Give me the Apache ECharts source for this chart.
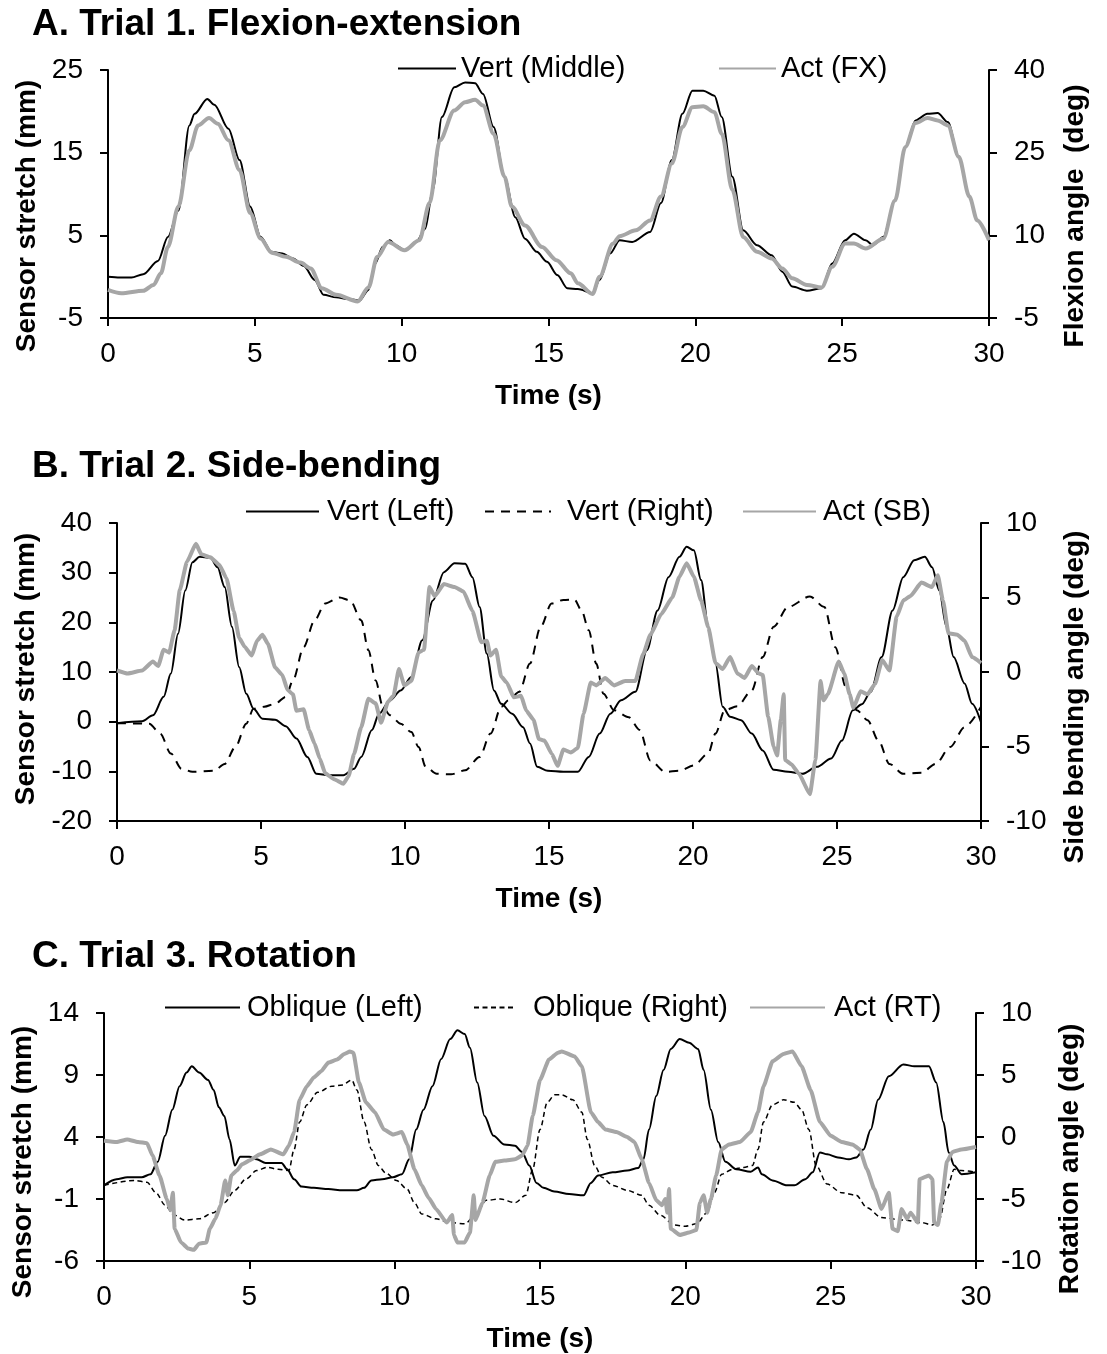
<!DOCTYPE html>
<html>
<head>
<meta charset="utf-8">
<script src="https://cdn.jsdelivr.net/npm/echarts@6/dist/echarts.min.js"></script>
<style>
html,body{margin:0;padding:0;background:#fff;}
#chart{width:1107px;height:1354px;}
</style>
</head>
<body>
<div id="chart"></div>
<script>
// ---------- Tick settings ----------
const timeTicks = { min: 0, max: 30, interval: 5 };
const aLeftTicks = { min: -5, max: 25, interval: 10 };
const aRightTicks = { min: -5, max: 40, interval: 15 };
const bLeftTicks = { min: -20, max: 40, interval: 10 };
const bRightTicks = { min: -10, max: 10, interval: 5 };
const cLeftTicks = { min: -6, max: 14, interval: 5 };
const cRightTicks = { min: -10, max: 10, interval: 5 };

// ---------- Panel A: Flexion-extension ----------
// [time (s), sensor stretch (mm)]
const aVertMiddle = [[0,0.0],[0.4,-0.1],[0.8,-0.1],[1.2,0.3],[1.7,1.9],[2.04,4.8],[2.4,8.0],[2.77,18.3],[2.95,19.7],[3.38,21.5],[3.62,20.8],[4.1,17.9],[4.48,14.1],[4.84,8.5],[5.2,4.8],[5.57,3.0],[5.94,2.8],[6.3,2.2],[6.67,1.3],[7.04,-0.4],[7.34,-2.2],[7.77,-2.5],[8.2,-2.7],[8.56,-2.9],[8.87,-1.6],[9.1,1.6],[9.35,3.6],[9.6,4.4],[9.8,3.8],[10.1,3.2],[10.5,4.2],[10.8,5.8],[11.06,10.5],[11.37,19.3],[11.79,22.9],[12.16,23.5],[12.5,23.4],[12.77,22.1],[13.13,18.1],[13.5,12.1],[13.87,7.2],[14.2,4.6],[14.6,3.0],[14.95,1.8],[15.3,0.2],[15.64,-1.4],[16.0,-1.5],[16.5,-2.0],[16.74,-0.4],[17.1,2.8],[17.42,4.4],[17.85,4.2],[18.46,5.4],[18.83,8.9],[19.2,14.1],[19.56,19.7],[19.9,22.5],[20.27,22.5],[20.65,21.9],[20.9,19.3],[21.26,12.1],[21.63,5.6],[22.1,3.8],[22.6,2.6],[22.96,0.6],[23.3,-1.2],[23.8,-1.7],[24.3,-1.4],[24.66,1.6],[25.1,4.4],[25.4,5.2],[25.8,4.4],[26.05,3.8],[26.4,4.8],[26.8,9.2],[27.15,15.7],[27.5,18.9],[27.9,19.7],[28.25,19.8],[28.6,18.7],[28.97,14.5],[29.33,9.7],[29.6,6.8],[30,4.4]];
// [time (s), flexion angle (deg)]
const aActFX = [[0,0.1],[0.45,-0.5],[1.2,-0.05],[1.55,1.0],[1.8,3.1],[2.04,7.9],[2.4,15.25],[2.77,25.45],[3.07,29.95],[3.44,31.3],[3.74,30.25],[4.1,27.25],[4.48,21.85],[4.84,14.05],[5.2,9.4],[5.57,6.85],[6.06,6.1],[6.55,5.05],[6.9,4.0],[7.28,0.4],[7.77,-0.8],[8.5,-2.0],[8.87,0.55],[9.17,6.1],[9.54,8.8],[10.1,7.3],[10.6,9.1],[10.95,15.85],[11.3,27.25],[11.79,32.65],[12.16,34.15],[12.5,34.6],[12.77,33.55],[13.13,28.45],[13.5,20.65],[13.75,15.25],[14.2,11.8],[14.78,7.9],[15.27,5.5],[15.76,3.1],[16.0,1.3],[16.5,-0.65],[16.74,2.5],[17.2,8.5],[17.42,9.85],[17.97,10.9],[18.46,12.7],[18.83,17.05],[19.2,23.05],[19.56,29.65],[19.9,33.25],[20.27,33.4],[20.65,32.35],[20.9,28.45],[21.26,18.25],[21.63,9.7],[22.1,7.0],[22.6,5.8],[22.96,4.0],[23.3,2.2],[23.8,1.0],[24.3,0.55],[24.66,4.3],[25.1,8.5],[25.4,8.5],[25.8,7.6],[26.4,9.4],[26.8,16.3],[27.15,26.05],[27.5,30.4],[27.9,31.3],[28.25,30.85],[28.6,29.95],[28.97,24.25],[29.33,17.05],[29.6,12.7],[30,9.1]];

// ---------- Panel B: Side-bending ----------
const bVertLeft = [[0,-0.3],[0.87,0.1],[1.25,1.3],[1.62,5.0],[1.87,9.7],[2.12,17.7],[2.37,26.4],[2.62,32.1],[2.87,33.2],[3.24,33.0],[3.49,31.1],[3.74,27.1],[3.99,19.1],[4.24,11.0],[4.49,5.6],[4.74,2.6],[5.05,0.6],[5.49,0.4],[5.86,-0.9],[6.23,-3.4],[6.61,-7.1],[6.92,-10.5],[7.36,-10.8],[7.86,-10.8],[8.23,-9.5],[8.48,-7.1],[8.85,-1.7],[9.1,1.6],[9.48,4.3],[9.85,6.3],[10.22,9.0],[10.6,16.4],[10.97,24.4],[11.35,30.1],[11.72,31.9],[12.09,31.8],[12.34,29.1],[12.59,23.1],[12.84,13.7],[13.09,6.3],[13.34,3.6],[13.72,1.6],[14.1,-1.1],[14.34,-4.4],[14.59,-9.1],[14.96,-9.9],[15.5,-10.1],[16.0,-10.1],[16.38,-7.1],[16.76,-2.4],[17.13,1.6],[17.5,4.3],[18.0,6.0],[18.4,14.4],[18.77,22.4],[19.15,29.1],[19.53,33.2],[19.78,35.2],[20.03,34.5],[20.28,28.5],[20.53,19.1],[20.78,11.7],[21.03,3.0],[21.29,1.0],[21.67,0.3],[22.04,-2.4],[22.42,-5.8],[22.8,-9.7],[23.3,-10.1],[23.8,-10.5],[24.3,-9.1],[24.8,-7.4],[25.17,-3.8],[25.55,2.3],[25.86,3.5],[26.17,6.0],[26.55,13.0],[26.93,22.4],[27.3,29.1],[27.68,32.5],[28.05,33.2],[28.3,31.1],[28.55,26.4],[28.8,19.1],[29.05,13.0],[29.43,7.7],[29.69,3.6],[30,-0.1]];
const bVertRight = [[0,-0.3],[1.12,-0.4],[1.5,-2.4],[1.87,-6.4],[2.24,-9.5],[2.62,-10.1],[3.37,-9.9],[3.74,-8.5],[4.11,-5.1],[4.49,-0.4],[4.74,2.6],[5.11,3.0],[5.49,3.6],[5.86,5.0],[6.11,8.3],[6.48,15.0],[6.86,20.4],[7.23,23.8],[7.73,25.0],[8.1,24.4],[8.48,20.4],[8.73,14.4],[8.98,8.3],[9.23,3.0],[9.48,1.3],[9.85,-0.4],[10.22,-2.1],[10.47,-5.1],[10.72,-9.1],[11.1,-10.5],[11.6,-10.6],[12.09,-9.8],[12.59,-7.1],[12.97,-2.4],[13.34,3.0],[13.59,4.3],[13.97,6.0],[14.34,11.7],[14.71,19.1],[15.09,23.8],[15.5,24.5],[15.88,24.6],[16.13,22.4],[16.38,18.4],[16.64,11.7],[16.89,5.6],[17.26,2.3],[17.77,0.9],[18.15,-1.7],[18.52,-7.8],[19.03,-10.1],[19.53,-9.9],[20.03,-8.8],[20.53,-6.4],[20.78,-2.4],[21.1,2.3],[21.54,3.1],[22.04,6.3],[22.42,13.0],[22.8,19.1],[23.3,23.1],[24.06,25.2],[24.56,23.1],[24.94,15.0],[25.31,7.0],[25.69,2.3],[26.06,0.3],[26.44,-3.8],[26.82,-8.5],[27.3,-10.5],[27.93,-10.3],[28.43,-8.5],[28.93,-5.1],[29.43,-1.1],[30,3.0]];
const bActSB = [[0,0.1],[0.37,-0.1],[0.87,0.1],[1.25,0.7],[1.43,0.4],[1.62,1.5],[1.81,1.3],[2.0,2.8],[2.18,5.5],[2.43,7.4],[2.74,8.6],[2.93,7.9],[3.24,7.7],[3.55,7.2],[3.8,6.3],[4.05,4.1],[4.24,2.3],[4.43,1.7],[4.68,1.1],[4.86,2.1],[5.05,2.5],[5.24,1.9],[5.49,0.3],[5.74,-0.2],[5.92,-1.2],[6.11,-1.5],[6.23,-2.6],[6.48,-2.5],[6.67,-3.9],[6.86,-4.8],[7.04,-5.8],[7.23,-6.8],[7.54,-7.2],[7.86,-7.5],[8.04,-7.0],[8.23,-5.5],[8.48,-3.7],[8.73,-1.8],[8.98,-2.1],[9.17,-3.4],[9.41,-2.0],[9.6,-1.6],[9.79,0.2],[9.98,-0.9],[10.22,-0.6],[10.47,1.3],[10.66,1.5],[10.85,5.7],[11.03,5.1],[11.35,5.9],[11.72,5.7],[12.03,5.4],[12.34,4.1],[12.65,2.0],[12.84,2.1],[12.97,1.1],[13.16,1.5],[13.34,-0.3],[13.53,-0.7],[13.78,-1.7],[14.03,-1.6],[14.21,-2.6],[14.46,-3.2],[14.65,-4.5],[14.84,-4.6],[15.1,-5.5],[15.3,-6.3],[15.5,-5.2],[15.76,-5.4],[16.0,-5.1],[16.2,-2.8],[16.45,-0.7],[16.64,-0.9],[16.95,-0.4],[17.26,-0.9],[17.64,-0.6],[18.0,-0.6],[18.27,1.2],[18.52,2.5],[18.9,3.9],[19.28,5.0],[19.53,6.4],[19.78,7.3],[20.03,6.4],[20.28,4.8],[20.53,3.0],[20.78,0.6],[21.03,0.2],[21.29,1.0],[21.54,-0.1],[21.79,-0.4],[22.04,0.4],[22.29,-0.1],[22.42,-0.2],[22.61,-3.0],[22.8,-5.0],[22.92,-5.6],[23.05,-3.2],[23.15,-1.5],[23.2,-5.9],[23.42,-6.2],[23.67,-6.8],[24.06,-8.2],[24.25,-5.9],[24.43,-0.6],[24.53,-1.9],[24.68,-1.5],[25.06,0.7],[25.25,-0.1],[25.44,-1.5],[25.57,-2.4],[25.82,-1.3],[26.06,-1.5],[26.32,-0.8],[26.57,0.8],[26.82,0.1],[27.07,3.7],[27.3,4.8],[27.55,5.1],[27.93,6.0],[28.3,5.7],[28.5,6.5],[28.68,4.8],[28.87,2.6],[29.18,2.5],[29.43,2.1],[29.69,1.0],[30,0.6]];

// ---------- Panel C: Rotation ----------
const cObliqueLeft = [[0,0.1],[0.43,0.6],[0.8,0.75],[1.3,0.75],[1.6,1.0],[1.85,2.0],[2.1,4.1],[2.35,6.2],[2.6,8.1],[2.84,9.2],[3.02,9.7],[3.27,9.2],[3.58,8.6],[3.77,7.8],[3.95,6.4],[4.14,5.7],[4.32,3.8],[4.5,1.7],[4.69,2.4],[5.0,2.4],[5.25,2.2],[5.56,1.9],[6.11,1.9],[6.3,1.4],[6.54,0.6],[6.79,0.0],[7.22,-0.1],[7.72,-0.2],[8.21,-0.3],[8.7,-0.3],[8.95,-0.1],[9.2,0.5],[9.57,0.6],[9.94,0.75],[10.25,1.0],[10.5,2.2],[10.74,4.6],[10.99,6.2],[11.3,8.1],[11.6,10.3],[11.91,11.9],[12.16,12.6],[12.41,12.3],[12.59,11.2],[12.84,8.4],[13.09,5.7],[13.4,4.1],[13.77,3.4],[14.14,3.3],[14.38,2.8],[14.63,1.7],[14.88,0.3],[15.12,-0.1],[15.49,-0.4],[16.0,-0.6],[16.5,-0.7],[16.75,0.3],[17.0,0.9],[17.5,1.15],[18.0,1.3],[18.38,1.5],[18.56,2.2],[18.75,4.6],[19.0,7.3],[19.25,9.4],[19.5,11.1],[19.81,11.9],[20.13,11.6],[20.44,11.1],[20.63,9.4],[20.88,6.2],[21.13,3.6],[21.38,2.0],[21.75,1.4],[22.25,1.2],[22.5,1.55],[22.63,1.0],[23.0,0.5],[23.5,0.1],[23.75,0.1],[24.13,0.6],[24.38,1.15],[24.63,2.75],[24.88,2.6],[25.25,2.35],[25.63,2.2],[25.88,2.35],[26.13,3.0],[26.38,4.6],[26.63,7.0],[27.0,8.9],[27.5,9.85],[27.88,9.7],[28.38,9.7],[28.63,8.4],[28.88,5.2],[29.06,2.75],[29.25,1.7],[29.5,1.0],[30,1.15]];
const cObliqueRight = [[0,0.1],[1.05,0.5],[1.48,0.35],[1.79,-0.5],[2.1,-1.5],[2.41,-2.3],[2.78,-2.7],[3.27,-2.6],[3.77,-2.1],[4.14,-1.3],[4.5,-0.3],[4.88,0.6],[5.25,1.3],[5.62,1.55],[5.99,1.4],[6.36,1.3],[6.54,3.0],[6.73,5.2],[6.98,6.6],[7.35,7.6],[7.84,8.1],[8.21,8.2],[8.52,8.6],[8.7,7.8],[8.95,5.2],[9.2,3.0],[9.44,1.7],[9.69,1.1],[10.06,0.5],[10.43,-0.2],[10.68,-1.3],[10.93,-2.2],[11.42,-2.6],[11.91,-2.9],[12.41,-3.0],[12.78,-2.3],[13.15,-1.1],[13.64,-1.0],[14.14,-1.3],[14.51,-0.7],[14.75,1.4],[15.0,4.6],[15.25,6.8],[15.5,7.4],[15.75,7.4],[16.13,7.0],[16.44,6.0],[16.63,3.8],[16.88,1.7],[17.13,0.75],[17.5,0.1],[18.0,-0.3],[18.5,-0.7],[18.75,-1.5],[19.13,-2.3],[19.63,-3.1],[20.0,-3.2],[20.38,-3.0],[20.75,-2.1],[21.0,-0.5],[21.25,1.0],[21.63,1.4],[22.0,1.55],[22.31,1.7],[22.5,3.0],[22.69,5.2],[23.0,6.6],[23.38,7.0],[23.75,6.8],[24.0,6.2],[24.25,4.6],[24.5,1.7],[24.88,0.2],[25.38,-0.5],[25.88,-0.7],[26.25,-1.7],[26.75,-2.5],[27.5,-2.7],[28.13,-2.9],[28.5,-3.1],[28.75,-2.6],[29.0,-0.2],[29.25,1.4],[29.5,1.3],[30,1.15]];
const cActRT = [[0,-0.3],[0.43,-0.4],[0.8,-0.2],[1.17,-0.4],[1.48,-0.5],[1.67,-1.5],[1.91,-3.1],[2.16,-5.0],[2.28,-5.9],[2.37,-4.5],[2.43,-7.4],[2.65,-8.5],[2.9,-9.0],[3.09,-9.1],[3.27,-8.6],[3.52,-8.5],[3.64,-7.4],[3.83,-6.6],[4.01,-5.5],[4.17,-3.5],[4.26,-4.7],[4.38,-3.1],[4.57,-2.7],[4.75,-2.2],[5.0,-1.9],[5.37,-1.4],[5.74,-1.0],[6.17,-1.4],[6.36,-0.7],[6.54,0.4],[6.73,3.0],[6.98,4.1],[7.22,4.8],[7.47,5.3],[7.72,6.0],[8.02,6.25],[8.27,6.7],[8.46,6.9],[8.58,6.8],[8.77,4.4],[9.01,2.8],[9.32,2.0],[9.63,0.6],[9.94,0.2],[10.25,0.4],[10.43,-0.6],[10.68,-2.6],[10.93,-3.9],[11.17,-4.9],[11.42,-5.8],[11.79,-6.9],[11.98,-6.3],[12.04,-7.9],[12.16,-8.5],[12.41,-8.5],[12.59,-7.7],[12.72,-4.7],[12.78,-6.7],[13.02,-5.3],[13.27,-3.1],[13.46,-2.0],[13.77,-1.9],[14.14,-1.8],[14.38,-1.5],[14.57,-0.7],[14.75,1.7],[15.0,4.6],[15.31,6.25],[15.62,6.8],[15.75,6.9],[16.19,6.5],[16.44,5.7],[16.75,2.0],[17.0,1.2],[17.25,0.6],[17.63,0.4],[18.0,0.0],[18.25,-0.4],[18.5,-1.8],[18.75,-3.7],[19.0,-5.1],[19.19,-5.5],[19.31,-5.0],[19.38,-6.1],[19.44,-4.2],[19.5,-7.4],[19.81,-7.9],[20.13,-7.7],[20.38,-7.5],[20.5,-5.3],[20.63,-4.7],[20.75,-6.1],[20.88,-5.0],[21.06,-3.1],[21.25,-1.0],[21.5,-0.6],[21.88,-0.4],[22.25,0.4],[22.5,2.0],[22.69,4.1],[23.0,6.1],[23.38,6.7],[23.69,6.9],[24.0,5.7],[24.31,3.8],[24.63,1.2],[25.0,0.1],[25.38,-0.4],[25.75,-0.6],[26.0,-1.0],[26.25,-2.6],[26.5,-4.2],[26.75,-5.8],[27.0,-4.5],[27.13,-7.4],[27.31,-7.6],[27.44,-5.8],[27.63,-6.6],[27.75,-6.1],[28.0,-6.9],[28.06,-3.4],[28.38,-3.1],[28.5,-3.4],[28.56,-6.9],[28.69,-7.1],[28.81,-5.3],[29.0,-2.0],[29.19,-1.2],[29.5,-1.0],[30,-0.8]];

// ---------- Text ----------
const panelTitles = ['A. Trial 1. Flexion-extension', 'B. Trial 2. Side-bending', 'C. Trial 3. Rotation'];
const leftNames = ['Sensor stretch (mm)', 'Sensor stretch (mm)', 'Sensor stretch (mm)'];
const rightNames = ['Flexion angle  (deg)', 'Side bending angle (deg)', 'Rotation angle (deg)'];
const xName = 'Time (s)';

// ---------- Styling / layout ----------
const FONT = '"Liberation Sans", Arial, Helvetica, sans-serif';
const BLACK = '#000000';
const GRAY = '#a6a6a6';
const grids = [
  { left: 108, top: 70, width: 881, height: 248 },
  { left: 117, top: 523, width: 864, height: 298 },
  { left: 104, top: 1013, width: 872, height: 249 }
];
const titleTops = [6, 448, 938];
const leftGaps = [64, 73, 60];
const rightGaps = [72, 80, 80];
const leftShift = [22, -3, 25];
const rightShift = [22, 25, 22];

function xAxisDef(gi) {
  return {
    type: 'value', gridIndex: gi, min: timeTicks.min, max: timeTicks.max, interval: timeTicks.interval,
    name: xName, nameLocation: 'middle', nameGap: 64,
    nameTextStyle: { fontFamily: FONT, fontSize: 28, fontWeight: 'bold', color: BLACK },
    axisLine: { show: true, onZero: false, lineStyle: { color: BLACK, width: 2 } },
    axisTick: { show: true, inside: false, length: 8, lineStyle: { color: BLACK, width: 2 } },
    axisLabel: { fontFamily: FONT, fontSize: 28, color: BLACK, margin: 22, showMinLabel: true, showMaxLabel: true },
    splitLine: { show: false }
  };
}
function yAxisDef(gi, ticks, side, name, gap, shift) {
  return {
    type: 'value', gridIndex: gi, position: side, min: ticks.min, max: ticks.max, interval: ticks.interval,
    name: name, nameLocation: 'middle', nameGap: gap, nameRotate: 90,
    nameTextStyle: { fontFamily: FONT, fontSize: 28, fontWeight: 'bold', color: BLACK,
      padding: shift >= 0 ? [0, 2 * shift, 0, 0] : [0, 0, 0, -2 * shift] },
    axisLine: { show: true, onZero: false, lineStyle: { color: BLACK, width: 2 } },
    axisTick: { show: true, inside: false, length: 8, lineStyle: { color: BLACK, width: 2 } },
    axisLabel: { fontFamily: FONT, fontSize: 28, color: BLACK, margin: 25, showMinLabel: true, showMaxLabel: true },
    splitLine: { show: false }
  };
}
function lineSeries(name, data, xi, yi, color, width, dash, z, smooth) {
  return {
    name: name, type: 'line', data: data, xAxisIndex: xi, yAxisIndex: yi,
    symbol: 'none', showSymbol: false, smooth: smooth, smoothMonotone: 'x', animation: false, z: z,
    lineStyle: { color: color, width: width, type: dash || 'solid', cap: 'butt', join: 'round' },
    itemStyle: { color: color }
  };
}
function legendDef(name, left, top, w, textGap) {
  return {
    data: [name], left: left, top: top, padding: 0, itemGap: 0, itemWidth: w, itemHeight: 14,
    itemStyle: { opacity: 0, borderWidth: 0 },
    textStyle: { fontFamily: FONT, fontSize: 29, color: BLACK, padding: [0, 0, 0, textGap || 0] },
    selectedMode: false
  };
}

const option = {
  backgroundColor: '#ffffff',
  animation: false,
  title: panelTitles.map((t, i) => ({
    text: t, left: 32, top: titleTops[i], padding: 0,
    textStyle: { fontFamily: FONT, fontSize: 37, fontWeight: 'bold', color: BLACK }
  })),
  grid: grids.map(g => Object.assign({ containLabel: false }, g)),
  xAxis: [xAxisDef(0), xAxisDef(1), xAxisDef(2)],
  yAxis: [
    yAxisDef(0, aLeftTicks, 'left', leftNames[0], leftGaps[0], leftShift[0]),
    yAxisDef(0, aRightTicks, 'right', rightNames[0], rightGaps[0], rightShift[0]),
    yAxisDef(1, bLeftTicks, 'left', leftNames[1], leftGaps[1], leftShift[1]),
    yAxisDef(1, bRightTicks, 'right', rightNames[1], rightGaps[1], rightShift[1]),
    yAxisDef(2, cLeftTicks, 'left', leftNames[2], leftGaps[2], leftShift[2]),
    yAxisDef(2, cRightTicks, 'right', rightNames[2], rightGaps[2], rightShift[2])
  ],
  legend: [
    legendDef('Vert (Middle)', 397, 54, 58, 0),
    legendDef('Act (FX)', 718, 54, 57, 0),
    legendDef('Vert (Left)', 245, 497, 73, 3),
    legendDef('Vert (Right)', 484, 497, 66, 11),
    legendDef('Act (SB)', 742, 497, 73, 2),
    legendDef('Oblique (Left)', 164, 993, 75, 2),
    legendDef('Oblique (Right)', 473, 993, 41, 13),
    legendDef('Act (RT)', 749, 993, 75, 4)
  ],
  series: [
    lineSeries('Vert (Middle)', aVertMiddle, 0, 0, BLACK, 2, 'solid', 2, 0.3),
    lineSeries('Act (FX)', aActFX, 0, 1, GRAY, 4, 'solid', 3, 0.3),
    lineSeries('Vert (Left)', bVertLeft, 1, 2, BLACK, 2, 'solid', 2, 0.3),
    lineSeries('Vert (Right)', bVertRight, 1, 2, BLACK, 2, [9, 7], 2, 0.3),
    lineSeries('Act (SB)', bActSB, 1, 3, GRAY, 4, 'solid', 3, 0.15),
    lineSeries('Oblique (Left)', cObliqueLeft, 2, 4, BLACK, 2, 'solid', 2, 0.3),
    lineSeries('Oblique (Right)', cObliqueRight, 2, 4, BLACK, 1.5, [5, 3.5], 2, 0.3),
    lineSeries('Act (RT)', cActRT, 2, 5, GRAY, 4, 'solid', 3, 0.15)
  ]
};

const chart = echarts.init(document.getElementById('chart'), null, { renderer: 'canvas', width: 1107, height: 1354 });
chart.setOption(option);
</script>
</body>
</html>
